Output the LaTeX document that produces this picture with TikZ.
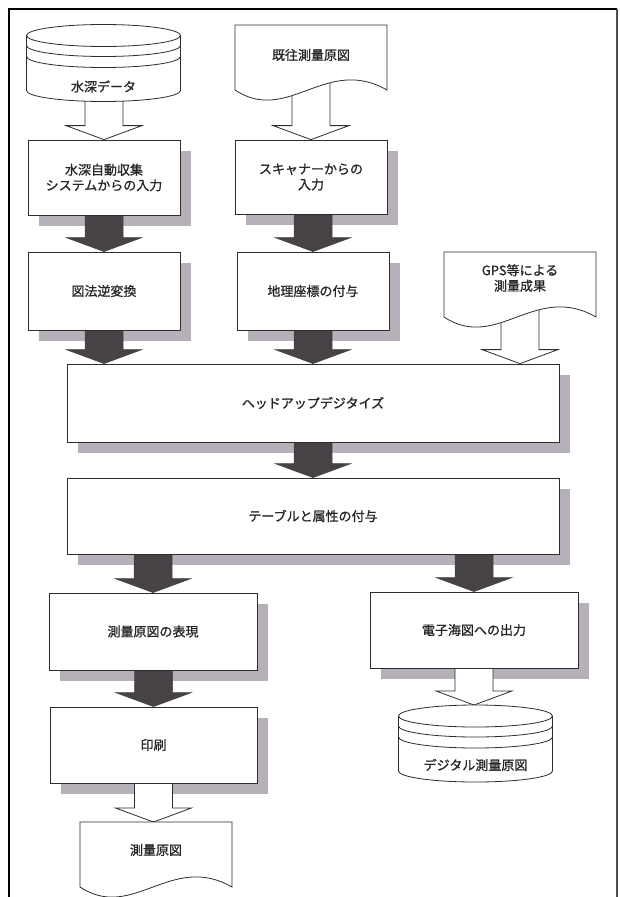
\documentclass[tikz,border=0pt]{standalone}
\usepackage{fontspec}
\newfontfamily\jpfont[FakeBold=1]{Noto Sans CJK JP}
\usetikzlibrary{calc}
\pgfdeclarelayer{shadowlayer}
\pgfdeclarelayer{arrowlayer}
\pgfdeclarelayer{shapelayer}
\pgfsetlayers{shadowlayer,arrowlayer,shapelayer,main}
\definecolor{shadowc}{RGB}{182,176,184}
\definecolor{darkc}{RGB}{70,66,70}
\definecolor{linec}{RGB}{45,45,45}
\tikzset{
  jp/.style={font=\jpfont\fontsize{13}{15.5}\selectfont, text=black!85, align=center},
  procbox/.style={draw=linec, line width=0.8pt, fill=white, inner sep=0pt, jp},
  ghost/.style={inner sep=0pt, outer sep=0pt},
  txt/.style={jp, inner sep=0pt},
  hollow/.style={draw=linec, line width=0.8pt, fill=white},
  darkarrow/.style={fill=darkc, draw=darkc, line width=0.5pt},
  shapeline/.style={draw=linec, line width=0.8pt, fill=white},
}
\newcommand\boxshadow[1]{\begin{pgfonlayer}{shadowlayer}\fill[shadowc] ($(#1.north west)+(11,11)$) rectangle ($(#1.south east)+(11,11)$);\end{pgfonlayer}}
\newcommand\blockarrow[4]{\begin{pgfonlayer}{arrowlayer}\path[#1] let \p1=(#2.center), \p2=(#3.center), \p3=(#4.north) in ({\x1-19pt},{\y2}) -- ({\x1-19pt},{\y3+14pt}) -- ({\x1-38pt},{\y3+14pt}) -- ({\x1},{\y3}) -- ({\x1+38pt},{\y3+14pt}) -- ({\x1+19pt},{\y3+14pt}) -- ({\x1+19pt},{\y2}) -- cycle;\end{pgfonlayer}}
\newcommand\docshape[1]{\begin{pgfonlayer}{shapelayer}\path[shapeline] (#1.north west) -- (#1.south west) .. controls ($(#1.south west)+(53,35)$) and ($(#1.south east)+(-61,-35)$) .. (#1.south east) -- (#1.north east) -- cycle;\end{pgfonlayer}}
\newcommand\cylshape[1]{\begin{pgfonlayer}{shapelayer}
  \path[shapeline] ($(#1.north west)+(0,11)$) -- ($(#1.south west)+(0,-11)$) arc[start angle=180,end angle=360,x radius=77pt,y radius=11pt] -- ($(#1.north east)+(0,11)$);
  \path[shapeline] ($(#1.north)+(0,11)$) ellipse [x radius=77pt, y radius=11pt];
  \draw[linec, line width=0.8pt] ($(#1.north west)+(0,21)$) arc[start angle=180,end angle=360,x radius=77pt,y radius=11pt];
  \draw[linec, line width=0.8pt] ($(#1.north west)+(0,32)$) arc[start angle=180,end angle=360,x radius=77pt,y radius=11pt];
\end{pgfonlayer}}
\begin{document}
\begin{tikzpicture}[x=1pt,y=-1pt]
\useasboundingbox (0,0) rectangle (619,897);
% frame
\draw[line width=2pt, black] (8.5,897) -- (8.5,8.5) -- (617,8.5);
\draw[line width=1.2pt, black!70] (617,8.5) -- (617,897);

% sources
\node[ghost, minimum width=154pt, minimum height=77pt] (cyl1) at (103.5,63) {};
\cylshape{cyl1}
\node[txt] (cyl1t) at ($(cyl1.north)+(0,62)$) {水深データ};

\node[ghost, minimum width=152pt, minimum height=65pt] (doc1) at (311,57.5) {};
\docshape{doc1}
\node[txt] (doc1t) at ($(doc1.north)+(0,30)$) {既往測量原図};

% row 1
\node[procbox, minimum width=152pt, minimum height=75pt] (box1) at (104,177.5) {水深自動収集\\システムからの入力};
\node[procbox, minimum width=152pt, minimum height=74pt] (box2) at (311,177) {スキャナーからの\\入力};
% row 2
\node[procbox, minimum width=152pt, minimum height=78pt] (box3) at (104,291) {図法逆変換};
\node[procbox, minimum width=152pt, minimum height=78pt] (box4) at (313,291) {地理座標の付与};

\node[ghost, minimum width=152pt, minimum height=65pt] (doc2) at (520,284.5) {};
\docshape{doc2}
\node[txt] (doc2t) at ($(doc2.north)+(0,26)$) {GPS等による\\測量成果};

\node[procbox, minimum width=492pt, minimum height=78pt] (headup) at (313,403) {ヘッドアップデジタイズ};
\node[procbox, minimum width=492pt, minimum height=76pt] (table) at (313,516) {テーブルと属性の付与};

\node[procbox, minimum width=208pt, minimum height=77pt] (box5) at (153,631.5) {測量原図の表現};
\node[procbox, minimum width=208pt, minimum height=76pt] (box6) at (474,630) {電子海図への出力};
\node[procbox, minimum width=207pt, minimum height=76pt] (box7) at (153.5,745) {印刷};

\node[ghost, minimum width=154pt, minimum height=77pt] (cyl2) at (475.5,743.5) {};
\cylshape{cyl2}
\node[txt] (cyl2t) at ($(cyl2.north)+(0,60)$) {デジタル測量原図};

\node[ghost, minimum width=152pt, minimum height=65pt] (doc3) at (156,854.5) {};
\docshape{doc3}
\node[txt] (doc3t) at ($(doc3.north)+(0,28)$) {測量原図};

% shadows
\boxshadow{box1}
\boxshadow{box2}
\boxshadow{box3}
\boxshadow{box4}
\boxshadow{headup}
\boxshadow{table}
\boxshadow{box5}
\boxshadow{box6}
\boxshadow{box7}

% arrows
\blockarrow{hollow}{box1}{cyl1}{box1}
\blockarrow{hollow}{box2}{doc1}{box2}
\blockarrow{darkarrow}{box3}{box1}{box3}
\blockarrow{darkarrow}{box4}{box2}{box4}
\blockarrow{darkarrow}{box3}{box3}{headup}
\blockarrow{darkarrow}{box4}{box4}{headup}
\blockarrow{hollow}{doc2}{doc2}{headup}
\blockarrow{darkarrow}{headup}{headup}{table}
\blockarrow{darkarrow}{box5}{table}{box5}
\blockarrow{darkarrow}{box6}{table}{box6}
\blockarrow{darkarrow}{box7}{box5}{box7}
\blockarrow{hollow}{box7}{box7}{doc3}
\blockarrow{hollow}{box6}{box6}{cyl2}
\end{tikzpicture}
\end{document}
